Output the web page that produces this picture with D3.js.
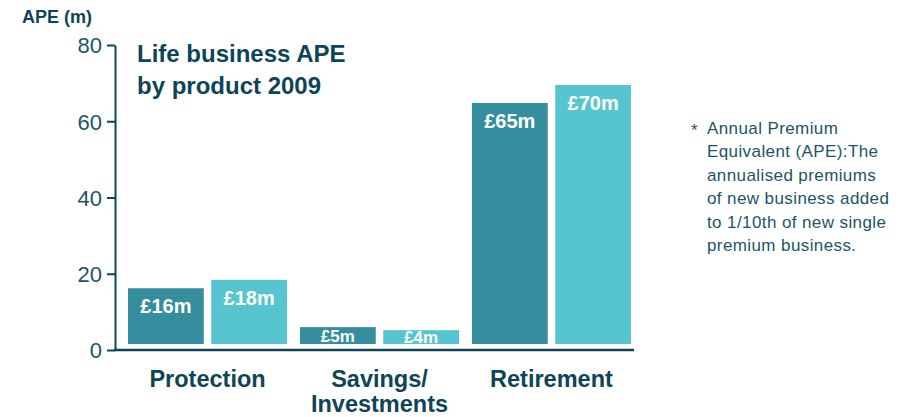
<!DOCTYPE html>
<html><head><meta charset="utf-8">
<script src="https://cdn.jsdelivr.net/npm/d3@7"></script>
<style>
html,body{margin:0;padding:0;background:#fff;}
svg{display:block;font-family:"Liberation Sans",Arial,sans-serif;}
</style></head>
<body>
<svg id="c" width="922" height="417"></svg>
<script>
const categories = ["Protection", "Savings/\nInvestments", "Retirement"];
const seriesNames = ["2008", "2009"];
const valuesA = [16.2, 6.0, 64.8];   // dark bars
const valuesB = [18.4, 5.2, 69.5];   // light bars
const labelsA = ["£16m", "£5m", "£65m"];
const labelsB = ["£18m", "£4m", "£70m"];
const yTicks = [0, 20, 40, 60, 80];
const footnote = ["Annual Premium", "Equivalent (APE):The", "annualised premiums", "of new business added", "to 1/10th of new single", "premium business."];

const dark = "#0d4557", mid = "#1d5568";
const colors = ["#358d9d", "#56c5d0"];

const svg = d3.select("#c");
const y = d3.scaleLinear().domain([0, 80]).range([350, 45]);
const x0 = d3.scaleBand().domain(categories).range([128, 631]).paddingInner(0.075).paddingOuter(0);
const x1 = d3.scaleBand().domain(seriesNames).range([0, x0.bandwidth()]).paddingInner(0.09);

// y axis
const ya = svg.append("g").attr("transform", "translate(115,0)")
  .call(d3.axisLeft(y).tickValues(yTicks).tickSize(8).tickPadding(5).tickSizeOuter(0));
ya.select(".domain").attr("stroke", dark).attr("stroke-width", 2);
ya.selectAll(".tick line").attr("stroke", dark).attr("stroke-width", 2);
ya.selectAll(".tick text").attr("fill", mid).attr("font-size", 22)
  .attr("font-family", "'Liberation Sans',Arial,sans-serif").attr("dy", "0.36em");

// x baseline
svg.append("line").attr("x1", 114).attr("x2", 634).attr("y1", y(0)).attr("y2", y(0))
  .attr("stroke", dark).attr("stroke-width", 2.5);

// bars
const data = categories.map((c, i) => ({c, vals: [
  {s: seriesNames[0], v: valuesA[i], l: labelsA[i]},
  {s: seriesNames[1], v: valuesB[i], l: labelsB[i]}]}));
const g = svg.selectAll(".grp").data(data).join("g")
  .attr("transform", d => `translate(${x0(d.c)},0)`);
g.selectAll("rect").data(d => d.vals).join("rect")
  .attr("x", d => x1(d.s)).attr("width", x1.bandwidth())
  .attr("y", d => y(d.v)).attr("height", d => y(0) - 6 - y(d.v))
  .attr("fill", (d, i) => colors[i]);
g.selectAll("text.bl").data(d => d.vals).join("text").attr("class", "bl")
  .attr("x", d => x1(d.s) + x1.bandwidth() / 2)
  .attr("y", (d, i) => d.v < 10 ? y(0) - 8 + i : y(d.v) + 25)
  .attr("text-anchor", "middle").attr("fill", "#fff").attr("font-weight", "bold")
  .attr("font-size", d => d.v < 10 ? 17 : 20)
  .text(d => d.l);

// category labels
data.forEach(d => {
  d.c.split("\n").forEach((l, i) => {
    svg.append("text").attr("class", "cat")
      .attr("x", x0(d.c) + x0.bandwidth() / 2).attr("y", 387 + i * 25)
      .attr("text-anchor", "middle").attr("fill", dark).attr("font-weight", "bold")
      .attr("font-size", 23.5).text(l);
  });
});

// axis title
svg.append("text").attr("x", 22).attr("y", 23).attr("fill", dark).attr("font-weight", "bold")
  .attr("font-size", 18).text("APE (m)");

// chart title
svg.append("text").attr("x", 137).attr("y", 62).attr("fill", dark).attr("font-weight", "bold")
  .attr("font-size", 24).text("Life business APE");
svg.append("text").attr("x", 137).attr("y", 94).attr("fill", dark).attr("font-weight", "bold")
  .attr("font-size", 24).text("by product 2009");

// footnote
svg.append("text").attr("x", 691).attr("y", 136).attr("fill", mid).attr("font-size", 17).text("*");
svg.append("g").selectAll("text").data(footnote).join("text")
  .attr("x", 707).attr("y", (d, i) => 134 + i * 23.4)
  .attr("fill", mid).attr("font-size", 17).attr("letter-spacing", 0.4).text(d => d);
</script>
</body></html>
